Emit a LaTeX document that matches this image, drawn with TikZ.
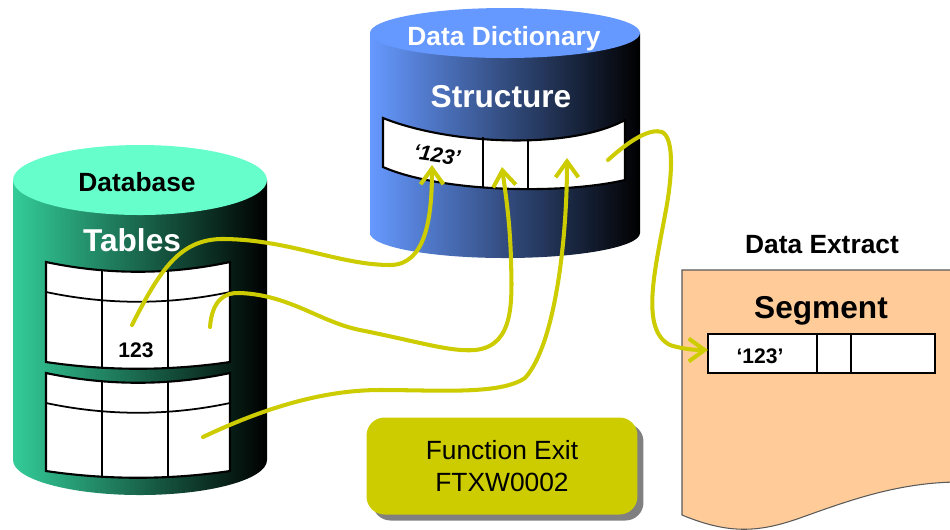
\documentclass[tikz,border=0pt]{standalone}
\usepackage{fontspec}
\setmainfont{Liberation Sans}
\usetikzlibrary{arrows.meta,shadows}
\definecolor{dbtop}{HTML}{66FFCC}
\definecolor{dbside}{HTML}{33CC99}
\definecolor{ddtop}{HTML}{6699FF}
\definecolor{ddside}{HTML}{6699FF}
\definecolor{extfill}{HTML}{FFCC99}
\definecolor{exitfill}{HTML}{CCCC00}
\definecolor{flow}{HTML}{CCCC00}

\begin{document}
\begin{tikzpicture}[x=0.02cm,y=-0.02cm,
  big/.style={font=\bfseries\fontsize{18}{21}\selectfont},
  mid/.style={font=\bfseries\fontsize{15}{18}\selectfont},
  val/.style={font=\bfseries\fontsize{12}{14}\selectfont},
  flowline/.style={flow,line width=2.3pt,line cap=round,-{Straight Barb[length=9pt,width=13pt]}}]
\useasboundingbox (0,0) rectangle (950,529);
\clip (0,0) rectangle (950,529);
% database
\shade[left color=dbside,right color=black] (13,180) -- (13,460) arc (180:0:127 and 35) -- (267,180) -- cycle;
\fill[dbtop] (140,180) ellipse (127 and 35);
\node[mid] (dbname) at (137,182) {Database};
\node[big,white] (dbtab) at (132,240) {Tables};
\foreach \ty/\tb in {262/362,373/471} {
  \filldraw[fill=white,line width=1.2pt] (46,\ty) .. controls (107,\ty+13) and (169,\ty+13) .. (230,\ty) -- (230,\tb) .. controls (169,\tb+9) and (107,\tb+9) .. (46,\tb) -- cycle;
  \draw[line width=1pt] (46,\ty+30) .. controls (107,\ty+43) and (169,\ty+43) .. (230,\ty+30);
  \draw[line width=1pt] (102,\ty+8) -- (102,\tb+6) (168,\ty+8) -- (168,\tb+6);
}
\node[val] (dbval) at (136,350) {123};
% data dictionary
\shade[left color=ddside,right color=black] (370,33) -- (370,233) arc (180:0:135 and 25) -- (640,33) -- cycle;
\fill[ddtop] (505,33) ellipse (135 and 25);
\node[mid,white] (ddname) at (504,39) {Data Dictionary};
\node[big,white] (ddstruct) at (501,97) {Structure};
\filldraw[fill=white,line width=1.2pt] (383,118) .. controls (450,145) and (570,150) .. (625,120) -- (625,180) .. controls (560,195) and (440,192) .. (383,167) -- cycle;
\draw[line width=0.8pt] (483,137) -- (483,187) (528,139) -- (528,188);
\node[val,rotate=-8] (ddval) at (437,155) {\itshape `123'};
% data extract
\node[mid] (extname) at (822,245) {Data Extract};
\filldraw[fill=extfill,draw=black!65,line width=0.6pt] (682,270) -- (960,270) -- (960,482) .. controls (900,482) and (850,500) .. (800,518) .. controls (760,532) and (730,535) .. (682,515) -- cycle;
\node[big] (segname) at (821,311) {Segment};
\draw[fill=white,line width=0.6pt] (708,334) rectangle (935,373);
\draw[line width=0.6pt] (817,334) -- (817,373) (851,334) -- (851,373);
\node[val] (segval) at (760,356) {`123'};
% function exit
\node[fill=exitfill,rounded corners=0.36cm,minimum width=5.42cm,minimum height=1.94cm,align=center,
  font=\fontsize{15}{18}\selectfont,
  drop shadow={shadow xshift=0.12cm,shadow yshift=-0.12cm,fill=black!50,opacity=1}] (fexit) at (502,466) {Function Exit\\FTXW0002};
% flows
\coordinate (f1s) at (132,325); \coordinate (f1e) at (432,165);
\coordinate (f2s) at (210,327); \coordinate (f2e) at (502,167);
\coordinate (f3s) at (203,437); \coordinate (f3e) at (567,158);
\coordinate (f4s) at (608,160); \coordinate (f4e) at (708,350);
\draw[flowline] (f1s) .. controls (160,270) and (180,238) .. (225,239) .. controls (290,240) and (340,265) .. (390,265) .. controls (425,265) and (432,220) .. (f1e);
\draw[flowline] (f2s) .. controls (212,300) and (225,292) .. (240,293) .. controls (290,295) and (320,322) .. (360,330) .. controls (420,342) and (450,352) .. (475,350) .. controls (515,346) and (512,300) .. (511,260) .. controls (510,220) and (505,190) .. (f2e);
\draw[flowline] (f3s) .. controls (260,410) and (320,390) .. (380,390) .. controls (440,390) and (500,395) .. (525,378) .. controls (555,345) and (567,240) .. (f3e);
\draw[flowline] (f4s) .. controls (630,140) and (650,128) .. (662,132) .. controls (675,138) and (672,180) .. (665,215) .. controls (655,270) and (640,330) .. (670,345) .. controls (685,350) and (700,350) .. (f4e);
\end{tikzpicture}
\end{document}
